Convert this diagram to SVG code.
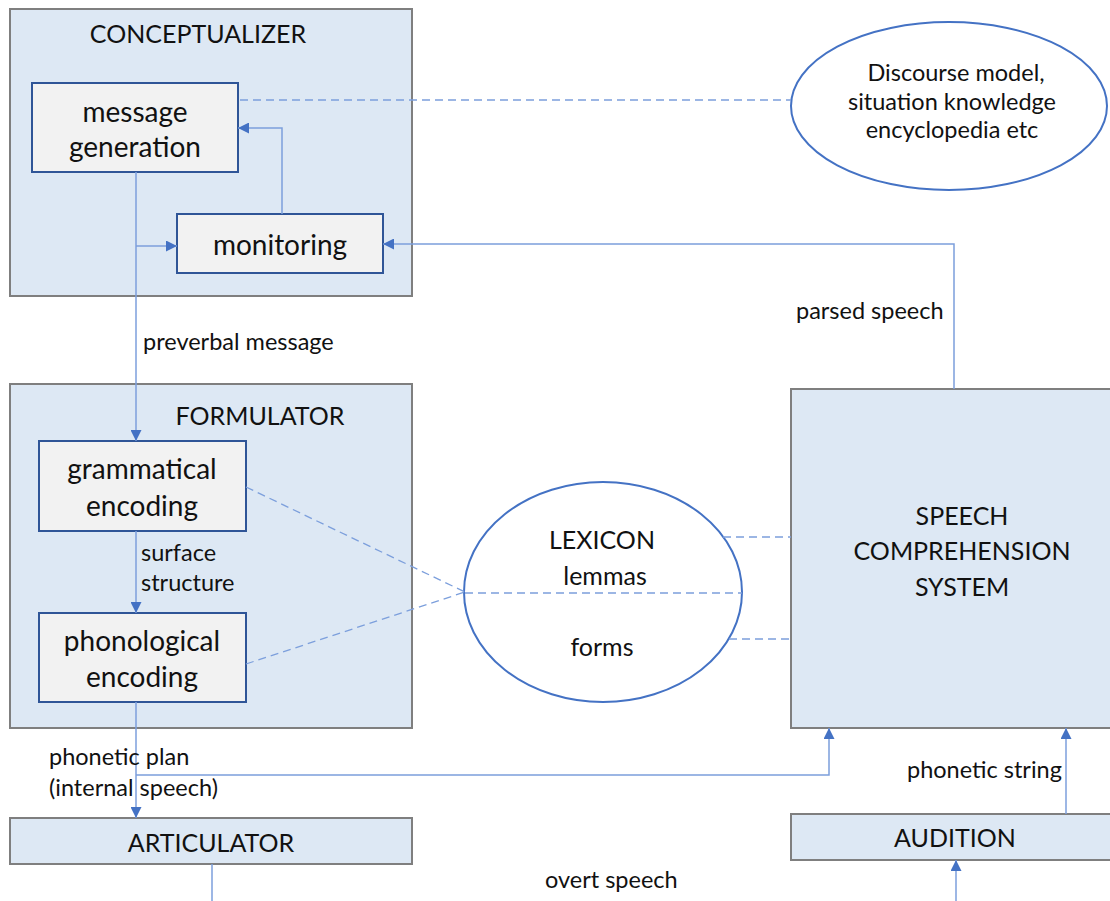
<svg xmlns="http://www.w3.org/2000/svg" width="1110" height="901" viewBox="0 0 1110 901">
  <style>
    .panel { fill: #dde8f4; stroke: #7f7f7f; stroke-width: 2; }
    .inner { fill: #f2f2f2; stroke: #2f5597; stroke-width: 2; }
    .store { fill: #ffffff; stroke: #4472c4; stroke-width: 2; }
    .flow { fill: none; stroke: #7c9fdc; stroke-width: 1.5; }
    .dash { fill: none; stroke: #7c9fdc; stroke-width: 1.3; stroke-dasharray: 8 5; }
    text { font-family: "Lato", "Liberation Sans", sans-serif; fill: #111111; }
    .title { font-size: 25px; text-anchor: middle; }
    .label { font-size: 28px; text-anchor: middle; }
    .small { font-size: 23.5px; }
    .mid { text-anchor: middle; }
  </style>
  <defs>
    <marker id="arrow" viewBox="0 0 10 10" refX="10" refY="5" markerWidth="11" markerHeight="11" markerUnits="userSpaceOnUse" orient="auto">
      <path d="M0,0 L10,5 L0,10 Z" fill="#4472c4"/>
    </marker>
  </defs>

  <!-- panels and processing components -->
  <g id="conceptualizer">
    <rect class="panel" x="10" y="9" width="402" height="287"/>
    <text class="title" x="198" y="43">CONCEPTUALIZER</text>
  </g>
  <g id="message-generation">
    <rect class="inner" x="32" y="83" width="206" height="89"/>
    <text class="label" x="135" y="122">message</text>
    <text class="label" x="135" y="157">generation</text>
  </g>
  <g id="monitoring">
    <rect class="inner" x="177" y="214" width="206" height="59"/>
    <text class="label" x="280" y="255">monitoring</text>
  </g>

  <g id="formulator">
    <rect class="panel" x="10" y="384" width="402" height="344"/>
    <text class="title" x="260" y="425">FORMULATOR</text>
  </g>
  <g id="grammatical-encoding">
    <rect class="inner" x="39" y="441" width="207" height="90"/>
    <text class="label" x="142" y="479">grammatical</text>
    <text class="label" x="142" y="516">encoding</text>
  </g>
  <g id="phonological-encoding">
    <rect class="inner" x="39" y="613" width="207" height="89"/>
    <text class="label" x="142" y="651">phonological</text>
    <text class="label" x="142" y="687">encoding</text>
  </g>

  <g id="articulator">
    <rect class="panel" x="10" y="818" width="402" height="46"/>
    <text class="title" x="211" y="852">ARTICULATOR</text>
  </g>

  <g id="speech-comprehension">
    <rect class="panel" x="791" y="389" width="330" height="339"/>
    <text class="title" x="962" y="525">SPEECH</text>
    <text class="title" x="962" y="560">COMPREHENSION</text>
    <text class="title" x="962" y="596">SYSTEM</text>
  </g>

  <g id="audition">
    <rect class="panel" x="791" y="814" width="330" height="46"/>
    <text class="title" x="955" y="847">AUDITION</text>
  </g>

  <!-- knowledge stores -->
  <g id="discourse-model">
    <ellipse class="store" cx="949" cy="106" rx="158" ry="84"/>
    <text class="small mid" x="956" y="81">Discourse model,</text>
    <text class="small mid" x="952" y="110">situation knowledge</text>
    <text class="small mid" x="952" y="138">encyclopedia etc</text>
  </g>
  <g id="lexicon">
    <ellipse class="store" cx="603" cy="592" rx="139" ry="110"/>
    <text class="title" x="602" y="549">LEXICON</text>
    <text class="title" x="605" y="585">lemmas</text>
    <text class="title" x="602" y="656">forms</text>
  </g>

  <!-- connectors -->
  <g id="connectors">
    <!-- message generation down to grammatical encoding -->
    <path class="flow" d="M136,172 V441" marker-end="url(#arrow)"/>
    <path class="flow" d="M136,246 H177" marker-end="url(#arrow)"/>
    <path class="flow" d="M282,214 V128 H238" marker-end="url(#arrow)"/>
    <!-- parsed speech feedback into monitoring -->
    <path class="flow" d="M954,389 V244 H383" marker-end="url(#arrow)"/>
    <!-- surface structure -->
    <path class="flow" d="M136,531 V613" marker-end="url(#arrow)"/>
    <!-- phonetic plan to articulator and internal loop -->
    <path class="flow" d="M136,702 V818" marker-end="url(#arrow)"/>
    <path class="flow" d="M136,775 H829 V728" marker-end="url(#arrow)"/>
    <!-- audition to comprehension -->
    <path class="flow" d="M1066,814 V728" marker-end="url(#arrow)"/>
    <path class="flow" d="M956,901 V860" marker-end="url(#arrow)"/>
    <!-- articulator output -->
    <path class="flow" d="M212,864 V901"/>

    <!-- dashed knowledge links -->
    <path class="dash" d="M240,100 H791"/>
    <path class="dash" d="M246,487 L465,592"/>
    <path class="dash" d="M246,664 L465,592"/>
    <path class="dash" d="M465,593 H742"/>
    <path class="dash" d="M723,537 H791"/>
    <path class="dash" d="M729,639 H791"/>

    <!-- connector labels -->
    <text class="small" x="143" y="350">preverbal message</text>
    <text class="small" x="796" y="319">parsed speech</text>
    <text class="small" x="141" y="561">surface</text>
    <text class="small" x="141" y="591">structure</text>
    <text class="small" x="49" y="765">phonetic plan</text>
    <text class="small" x="49" y="796">(internal speech)</text>
    <text class="small" x="907" y="778">phonetic string</text>
    <text class="small" x="545" y="888">overt speech</text>
  </g>
</svg>
